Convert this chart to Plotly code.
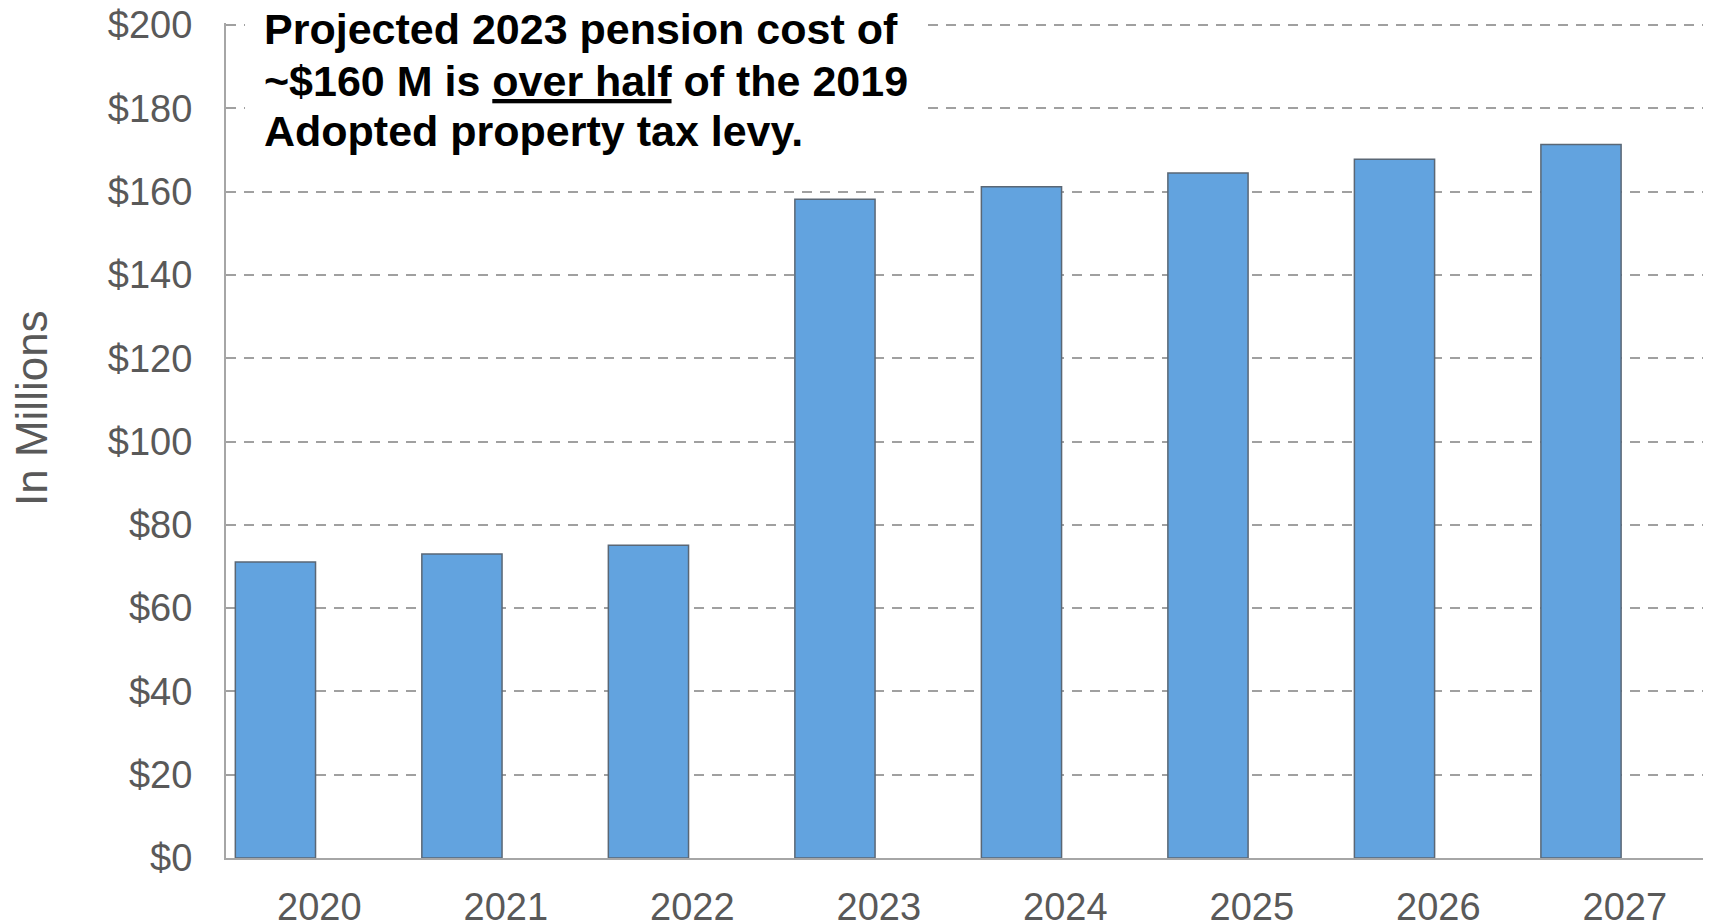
import plotly.graph_objects as go

years = ["2020", "2021", "2022", "2023", "2024", "2025", "2026", "2027"]
pension_cost = [71.1, 73.0, 75.1, 158.2, 161.2, 164.5, 167.8, 171.3]
y_ticks = [0, 20, 40, 60, 80, 100, 120, 140, 160, 180, 200]
y_tick_labels = [f"${v}" for v in y_ticks]
note_lines = [
    "Projected 2023 pension cost of",
    "~$160 M is <u>over half</u> of the 2019",
    "Adopted property tax levy.",
]

GRAY = "#595959"

fig = go.Figure()

fig.add_trace(
    go.Bar(
        x=years,
        y=pension_cost,
        width=0.43,
        offset=-0.45,
        marker=dict(color="#62A3DF", line=dict(color="#5A6775", width=1.5)),
        showlegend=False,
    )
)

# white panel behind the note so the gridlines break there
fig.add_shape(
    type="rect",
    xref="paper",
    yref="paper",
    x0=0.0128,
    x1=0.4714,
    y0=0.838,
    y1=1.04,
    fillcolor="white",
    line=dict(width=0),
    layer="above",
)

for line, ypos in zip(note_lines, [0.9934, 0.9311, 0.8701]):
    fig.add_annotation(
        text=f"<b>{line}</b>",
        xref="paper",
        yref="paper",
        x=0.0245,
        y=ypos,
        xanchor="left",
        yanchor="middle",
        showarrow=False,
        align="left",
        font=dict(family="Liberation Sans, Arial", size=43, color="black"),
    )

# y axis title placed by hand (sits a bit above plot centre)
fig.add_annotation(
    text="In Millions",
    xref="paper",
    yref="paper",
    x=-0.1306,
    y=0.539,
    xanchor="center",
    yanchor="middle",
    textangle=-90,
    showarrow=False,
    font=dict(family="Liberation Sans, Arial", size=44, color=GRAY),
)

fig.update_xaxes(
    type="category",
    range=[-0.5, 7.462],
    automargin=False,
    showline=True,
    linecolor="#A6A6A6",
    linewidth=2,
    showgrid=False,
    ticks="",
    ticklabelstandoff=14,
    ticklabeloverflow="allow",
    tickfont=dict(family="Liberation Sans, Arial", size=38, color=GRAY),
)
fig.update_yaxes(
    range=[0, 200.5],
    automargin=False,
    tickvals=y_ticks,
    ticktext=y_tick_labels,
    showline=True,
    linecolor="#A6A6A6",
    linewidth=2,
    showgrid=True,
    gridcolor="#A0A0A0",
    gridwidth=2,
    griddash="10px,8px",
    zeroline=False,
    ticks="",
    ticklabelstandoff=24,
    ticklabeloverflow="allow",
    tickfont=dict(family="Liberation Sans, Arial", size=38, color=GRAY),
)

# the page body adds an 8px margin, so the figure is 8px smaller than the window
fig.update_layout(
    width=1703,
    height=916,
    margin=dict(l=218, r=0, t=15, b=66),
    plot_bgcolor="white",
    paper_bgcolor="white",
    bargap=0.5,
)

fig.write_html("out.html")
